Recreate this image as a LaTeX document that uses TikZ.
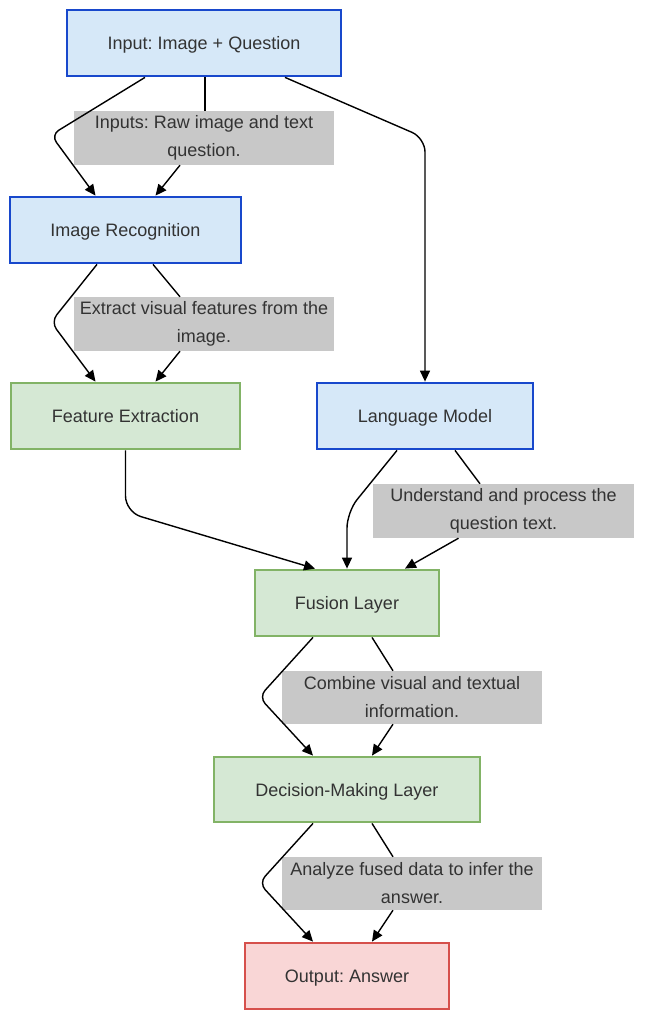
\documentclass[tikz,border=0pt]{standalone}
\usepackage{fontspec}
\setmainfont{Liberation Sans}
\frenchspacing
\usetikzlibrary{arrows.meta}
\definecolor{bluefill}{RGB}{214,232,248}
\definecolor{bluedraw}{RGB}{24,72,204}
\definecolor{greenfill}{RGB}{213,232,212}
\definecolor{greendraw}{RGB}{130,179,102}
\definecolor{redfill}{RGB}{249,214,214}
\definecolor{reddraw}{RGB}{214,80,76}
\definecolor{labelgray}{RGB}{200,200,200}
\definecolor{txt}{RGB}{51,51,51}
\tikzset{
  box/.style={rectangle, line width=2.8pt, inner sep=0pt, text height=13pt, text depth=0pt, font=\fontsize{18}{20}\selectfont, text=txt},
  bluebox/.style={box, fill=bluefill, draw=bluedraw},
  greenbox/.style={box, fill=greenfill, draw=greendraw},
  redbox/.style={box, fill=redfill, draw=reddraw},
  elabel/.style={rectangle, fill=labelgray, inner sep=0pt, minimum width=260pt, minimum height=54pt, align=center, font=\fontsize{18}{28}\selectfont, text=txt},
  conn/.style={line width=1.4pt, black, rounded corners=9pt, -{Triangle[length=11pt,width=10pt]}},
  seg/.style={line width=1.4pt, black}
}
\begin{document}
\begin{tikzpicture}[x=1pt,y=-1pt]
\useasboundingbox (0,0) rectangle (647,1024);
\fill[white] (0,0) rectangle (647,1024);
% nodes
\node[bluebox, minimum width=274pt, minimum height=66pt] (inp) at (204,43) {Input: Image + Question};
\node[bluebox, minimum width=231pt, minimum height=66pt] (img) at (125.5,230) {Image Recognition};
\node[greenbox, minimum width=229pt, minimum height=66pt] (feat) at (125.5,416) {Feature Extraction};
\node[bluebox, minimum width=216pt, minimum height=66pt] (lang) at (425,416) {Language Model};
\node[greenbox, minimum width=184pt, minimum height=66pt] (fus) at (347,603) {Fusion Layer};
\node[greenbox, minimum width=266pt, minimum height=65pt] (dec) at (347,789.5) {Decision-Making Layer};
\node[redbox, minimum width=204pt, minimum height=66pt] (out) at (347,976) {Output: Answer};
% label positions
\coordinate (c1) at (204,138);
\coordinate (c2) at (204,324);
\coordinate (c3) at (503.5,511);
\coordinate (c4) at (412,697.5);
\coordinate (c5) at (412,883.5);
\node[elabel] (l1) at (c1) {Inputs: Raw image and text\\question.};
\node[elabel] (l2) at (c2) {Extract visual features from the\\image.};
\node[elabel, minimum width=261pt] (l3) at (c3) {Understand and process the\\question text.};
\node[elabel, minimum height=53pt] (l4) at (c4) {Combine visual and textual\\information.};
\node[elabel, minimum height=53pt] (l5) at (c5) {Analyze fused data to infer the\\answer.};
% Input -> Image Recognition
\draw[conn] ([xshift=-59pt]inp.south) -- (51,135) -- ([xshift=-30pt]img.north);
\draw[seg] ([xshift=1pt]inp.south) -- ([xshift=1pt]l1.north);
\draw[conn, rounded corners=0pt] ([xshift=-24pt]l1.south) -- ([xshift=30pt]img.north);
% Input -> Language Model
\draw[conn, rounded corners=14pt] ([xshift=81pt]inp.south) -- (425,138) -- (lang.north);
% Image Recognition -> Feature Extraction
\draw[conn] ([xshift=-28.5pt]img.south) -- (51,322) -- ([xshift=-30pt]feat.north);
\draw[seg] ([xshift=27.5pt]img.south) -- ([xshift=-24pt]l2.north);
\draw[conn, rounded corners=0pt] ([xshift=-24pt]l2.south) -- ([xshift=30pt]feat.north);
% Feature Extraction -> Fusion
\draw[conn, rounded corners=16pt] (feat.south) -- (125.5,512) -- ([xshift=-32pt]fus.north);
% Language Model -> Fusion
\draw[conn, rounded corners=16pt] ([xshift=-28pt]lang.south) -- (347,512) -- (fus.north);
\draw[seg] ([xshift=30pt]lang.south) -- ([xshift=-23.5pt]l3.north);
\draw[conn, rounded corners=0pt] ([xshift=-45pt]l3.south) -- ([xshift=58pt]fus.north);
% Fusion -> Decision
\draw[conn] ([xshift=-34pt]fus.south) -- (259,697) -- ([xshift=-34pt]dec.north);
\draw[seg] ([xshift=25pt]fus.south) -- ([xshift=-19pt]l4.north);
\draw[conn, rounded corners=0pt] ([xshift=-19pt]l4.south) -- ([xshift=25pt]dec.north);
% Decision -> Output
\draw[conn] ([xshift=-34pt]dec.south) -- (259,883) -- ([xshift=-34pt]out.north);
\draw[seg] ([xshift=25pt]dec.south) -- ([xshift=-19pt]l5.north);
\draw[conn, rounded corners=0pt] ([xshift=-19pt]l5.south) -- ([xshift=25pt]out.north);
\end{tikzpicture}
\end{document}
